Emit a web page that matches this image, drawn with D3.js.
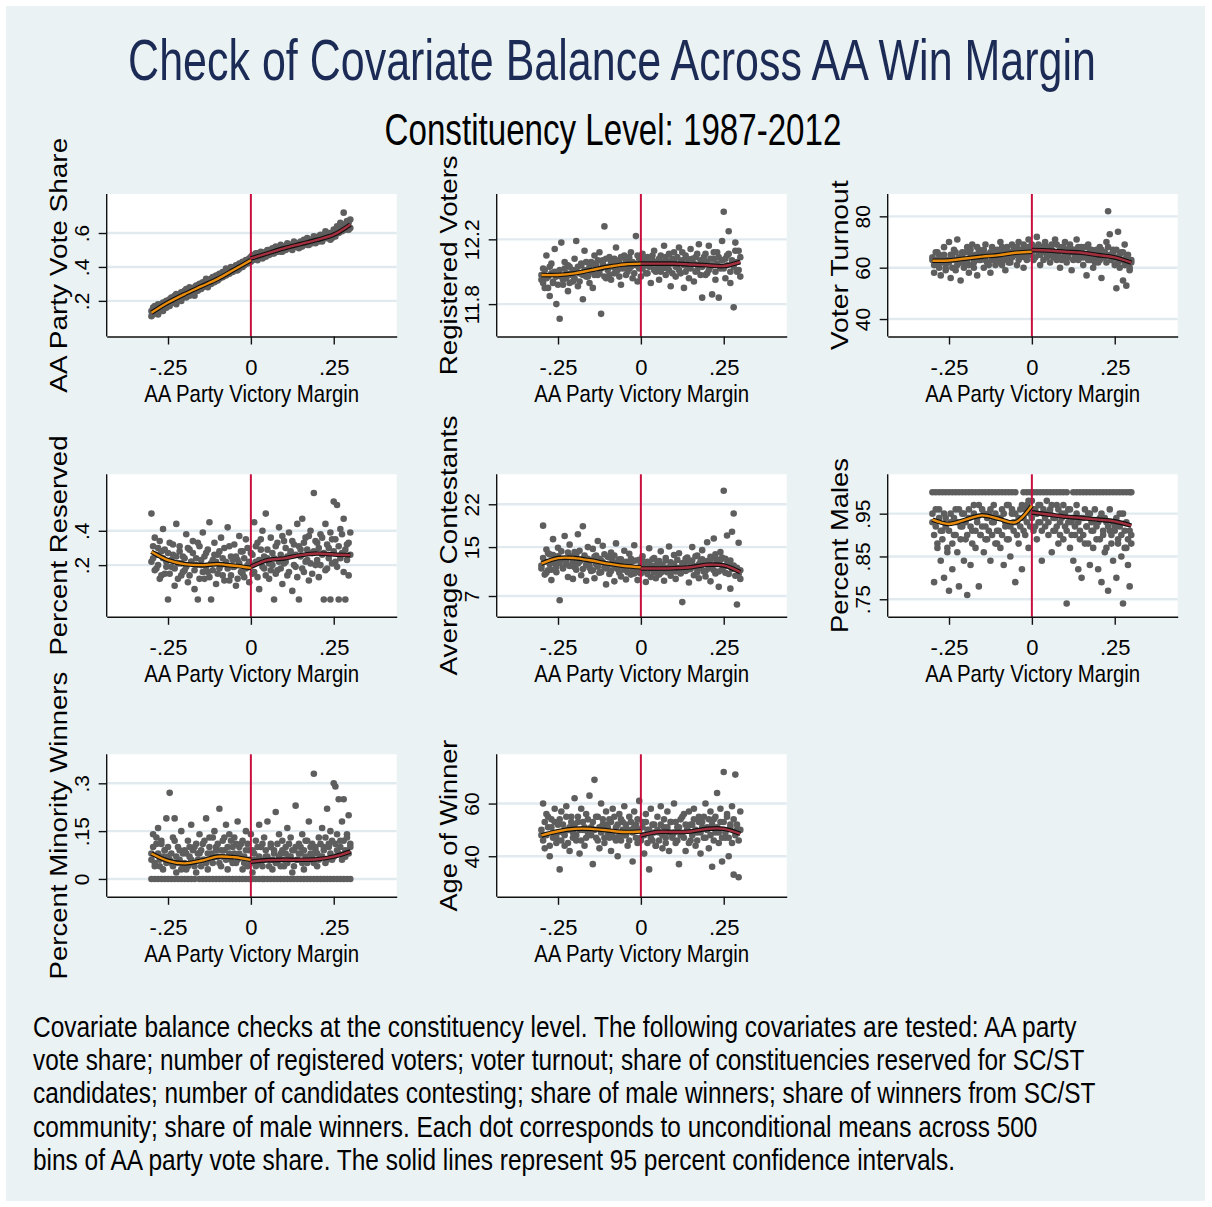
<!DOCTYPE html>
<html lang="en">
<head>
<meta charset="UTF-8">
<title>Check of Covariate Balance Across AA Win Margin</title>
<script src="https://d3js.org/d3.v7.min.js"></script>
<style>
  body { margin: 0; background: #fff; font-family: "Liberation Sans", Arial, sans-serif; }
  .axis path, .axis line { stroke: #111; stroke-width: 1.4; }
</style>
</head>
<body>
<svg id="chart" width="1212" height="1207"></svg>
<script>
// bins of AA party victory margin (x of every dot)
let marginBins = [
  -0.300,-0.295,-0.290,-0.285,-0.280,-0.275,-0.270,-0.265,-0.260,-0.255,
  -0.250,-0.245,-0.240,-0.235,-0.230,-0.225,-0.220,-0.215,-0.210,-0.205,
  -0.200,-0.195,-0.190,-0.185,-0.180,-0.175,-0.170,-0.165,-0.160,-0.155,
  -0.150,-0.145,-0.140,-0.135,-0.130,-0.125,-0.120,-0.115,-0.110,-0.105,
  -0.100,-0.095,-0.090,-0.085,-0.080,-0.075,-0.070,-0.065,-0.060,-0.055,
  -0.050,-0.045,-0.040,-0.035,-0.030,-0.025,-0.020,-0.015,-0.010,-0.005,
  0.000,0.005,0.010,0.015,0.020,0.025,0.030,0.035,0.040,0.045,
  0.050,0.055,0.060,0.065,0.070,0.075,0.080,0.085,0.090,0.095,
  0.100,0.105,0.110,0.115,0.120,0.125,0.130,0.135,0.140,0.145,
  0.150,0.155,0.160,0.165,0.170,0.175,0.180,0.185,0.190,0.195,
  0.200,0.205,0.210,0.215,0.220,0.225,0.230,0.235,0.240,0.245,
  0.250,0.255,0.260,0.265,0.270,0.275,0.280,0.285,0.290,0.295,0.300
]
let fitLeftX = [-0.30, -0.25, -0.20, -0.15, -0.10, -0.05, 0]
let fitRightX = [0, 0.05, 0.10, 0.15, 0.20, 0.25, 0.30]

let voteShareY = [
  0.11,0.16,0.13,0.17,0.12,0.15,0.18,0.14,0.19,0.16,
  0.20,0.17,0.22,0.19,0.23,0.18,0.21,0.24,0.20,0.23,
  0.26,0.22,0.25,0.28,0.24,0.27,0.23,0.29,0.26,0.30,
  0.27,0.31,0.29,0.33,0.28,0.32,0.30,0.34,0.31,0.35,
  0.32,0.36,0.34,0.37,0.35,0.39,0.36,0.38,0.40,0.37,
  0.39,0.41,0.38,0.42,0.40,0.43,0.41,0.44,0.42,0.45,
  0.43,0.47,0.45,0.48,0.44,0.46,0.49,0.45,0.48,0.46,
  0.50,0.47,0.49,0.51,0.48,0.52,0.49,0.50,0.53,0.49,
  0.52,0.50,0.54,0.51,0.53,0.50,0.55,0.52,0.54,0.51,
  0.55,0.53,0.56,0.54,0.57,0.53,0.56,0.55,0.58,0.54,
  0.57,0.55,0.59,0.56,0.58,0.61,0.57,0.60,0.56,0.59,
  0.62,0.58,0.64,0.60,0.66,0.61,0.72,0.63,0.67,0.62,0.68
]
let voteShareY2 = [
  0.14,0.12,0.17,0.15,0.18,0.16,0.14,0.19,0.17,0.20,
  0.18,0.21,0.19,0.22,0.20,0.24,0.21,0.23,0.25,0.22,
  0.24,0.27,0.25,0.23,0.27,0.25,0.28,0.26,0.29,0.27,
  0.30,0.28,0.31,0.29,0.32,0.30,0.33,0.31,0.34,0.32,
  0.35,0.33,0.36,0.34,0.37,0.35,0.38,0.36,0.39,0.38,
  0.40,0.38,0.41,0.39,0.42,0.40,0.43,0.42,0.44,0.43,
  0.46,0.44,0.47,0.46,0.48,0.47,0.46,0.48,0.47,0.49,
  0.48,0.50,0.49,0.48,0.50,0.49,0.51,0.50,0.49,0.52,
  0.50,0.52,0.51,0.53,0.52,0.51,0.53,0.54,0.52,0.53,
  0.54,0.52,0.55,0.54,0.53,0.56,0.55,0.54,0.56,0.55,
  0.56,0.58,0.57,0.55,0.58,0.57,0.59,0.58,0.60,0.57,
  0.59,0.61,0.60,0.62,0.61,0.63,0.65,0.62,0.64,0.66,0.63
]
let voteShareFitL = [0.13, 0.19, 0.24, 0.285, 0.33, 0.385, 0.44]
let voteShareFitR = [0.45, 0.48, 0.51, 0.535, 0.56, 0.59, 0.65]

let regVotersY = [
  11.95,12.02,11.90,12.10,11.97,11.85,12.05,11.93,12.14,11.80,
  12.00,11.71,12.18,11.92,12.06,11.96,11.88,12.03,11.99,11.94,
  12.08,12.19,11.91,11.99,12.04,11.83,12.13,11.97,12.01,11.93,
  12.06,11.90,12.10,12.02,11.98,12.12,11.74,12.07,12.28,11.96,
  12.03,12.09,11.95,12.05,11.99,12.15,12.01,12.07,11.92,12.04,
  12.10,11.98,12.06,12.02,12.12,11.96,12.05,12.22,11.94,12.08,
  11.97,12.11,12.04,11.99,12.09,12.03,11.93,12.07,12.13,12.00,
  12.05,11.95,12.10,12.02,12.16,11.98,12.06,12.01,11.91,12.08,
  12.12,11.97,12.04,12.15,11.99,12.07,11.90,12.10,12.03,11.96,
  12.14,12.06,11.94,12.09,12.01,12.17,11.98,11.84,12.05,12.11,
  11.99,12.16,12.03,11.86,12.08,11.95,12.12,11.84,12.02,12.19,
  12.37,11.96,12.10,12.25,11.93,12.05,11.78,12.18,12.00,12.13,11.97
]
let regVotersY2 = [
  11.98,11.93,12.01,11.96,11.90,12.03,11.99,11.94,12.00,11.97,
  11.92,12.01,11.97,11.95,12.02,11.99,12.04,11.93,11.98,12.01,
  11.96,12.00,12.03,11.94,12.05,11.98,12.01,12.06,11.97,12.03,
  12.00,12.05,11.98,12.04,12.07,11.99,12.02,12.05,11.97,12.08,
  12.01,11.98,12.06,12.03,12.08,12.00,12.05,11.97,12.09,12.02,
  12.04,12.07,12.00,12.09,12.03,12.06,11.99,12.04,12.10,12.02,
  12.06,12.02,12.08,12.05,11.99,12.07,12.04,12.10,12.01,12.06,
  12.03,12.08,12.00,12.06,12.04,12.09,12.02,12.11,12.05,11.99,
  12.07,12.03,12.09,12.01,12.06,12.12,12.04,12.00,12.08,12.05,
  12.02,12.08,12.05,12.00,12.11,12.04,12.07,12.03,12.09,11.98,
  12.06,12.01,12.08,12.04,12.12,12.00,12.05,12.09,12.03,12.07,
  12.02,12.08,12.04,12.11,12.00,12.07,12.03,12.13,12.06,12.01,12.09
]
let regVotersFitL = [11.98, 11.98, 11.99, 12.01, 12.03, 12.045, 12.05]
let regVotersFitR = [12.05, 12.05, 12.05, 12.045, 12.04, 12.035, 12.06]

let turnoutY = [
  63,58,66,61,65,57,64,68,60,62,
  70,56,64,67,59,71,62,55,66,63,
  61,68,58,65,69,60,64,57,67,63,
  66,60,69,62,65,58,68,64,61,67,
  63,70,61,66,59,68,64,62,69,65,
  67,61,70,64,66,60,68,63,71,65,
  69,63,67,72,65,61,68,66,70,64,
  67,62,69,65,71,63,66,60,68,64,
  70,62,66,69,59,67,64,71,63,66,
  68,61,65,57,69,63,67,60,66,64,
  62,68,56,66,64,70,82,73,63,67,
  61,52,74,60,66,55,69,53,65,59,62
]
let turnoutY2 = [
  64,61,63,66,60,64,62,65,59,63,
  62,65,60,63,66,61,64,62,65,60,
  66,63,61,67,64,62,65,68,63,66,
  64,67,63,65,61,66,63,67,65,62,
  66,64,68,63,67,65,62,66,64,68,
  65,68,63,67,65,69,64,66,68,67,
  66,68,64,67,69,65,67,63,68,66,
  68,65,67,64,66,69,65,67,63,68,
  65,67,64,68,66,63,67,65,68,64,
  66,64,68,65,63,67,64,66,62,67,
  65,63,67,64,66,62,68,65,63,66,
  64,67,62,65,63,66,61,64,62,60,63
]
let turnoutFitL = [62.7, 62.8, 63.6, 64.3, 64.9, 65.8, 66.2]
let turnoutFitR = [66.9, 66.7, 66.2, 65.8, 64.9, 64.0, 62.0]

let reservedY = [
  0.50,0.24,0.36,0.18,0.30,0.12,0.28,0.41,0.15,0.22,
  0.00,0.33,0.19,0.26,0.08,0.44,0.21,0.31,0.14,0.25,
  0.17,0.38,0.10,0.29,0.22,0.34,0.06,0.24,0.00,0.31,
  0.20,0.39,0.12,0.27,0.16,0.45,0.00,0.23,0.33,0.09,
  0.26,0.18,0.36,0.14,0.30,0.21,0.42,0.11,0.25,0.19,
  0.32,0.08,0.23,0.37,0.16,0.28,0.13,0.35,0.20,0.10,
  0.27,0.15,0.45,0.22,0.33,0.06,0.29,0.40,0.18,0.50,
  0.24,0.12,0.36,0.20,0.00,0.31,0.17,0.42,0.26,0.09,
  0.34,0.22,0.14,0.39,0.27,0.05,0.32,0.19,0.44,0.00,
  0.29,0.47,0.16,0.36,0.23,0.11,0.40,0.27,0.62,0.20,
  0.33,0.13,0.38,0.26,0.00,0.44,0.18,0.30,0.00,0.35,
  0.57,0.22,0.55,0.00,0.41,0.27,0.47,0.00,0.32,0.14,0.39
]
let reservedY2 = [
  0.22,0.31,0.17,0.26,0.20,0.34,0.14,0.24,0.29,0.19,
  0.27,0.15,0.23,0.32,0.18,0.25,0.12,0.28,0.21,0.16,
  0.24,0.19,0.30,0.14,0.22,0.27,0.17,0.20,0.33,0.12,
  0.23,0.16,0.25,0.19,0.29,0.13,0.21,0.17,0.26,0.22,
  0.15,0.28,0.20,0.24,0.11,0.22,0.18,0.31,0.14,0.23,
  0.19,0.25,0.12,0.21,0.28,0.15,0.24,0.18,0.30,0.22,
  0.20,0.26,0.16,0.31,0.13,0.23,0.35,0.19,0.25,0.14,
  0.29,0.21,0.17,0.27,0.24,0.15,0.33,0.22,0.18,0.37,
  0.21,0.30,0.25,0.16,0.28,0.34,0.20,0.26,0.13,0.31,
  0.25,0.18,0.33,0.22,0.29,0.37,0.21,0.15,0.28,0.34,
  0.23,0.30,0.20,0.36,0.27,0.17,0.32,0.24,0.39,0.21,
  0.28,0.35,0.19,0.31,0.24,0.38,0.16,0.29,0.23,0.33,0.26
]
let reservedFitL = [0.278, 0.229, 0.206, 0.200, 0.206, 0.196, 0.184]
let reservedFitR = [0.19, 0.229, 0.239, 0.258, 0.268, 0.262, 0.258]

let contestantsY = [
  12.0,18.5,10.5,14.6,11.2,13.8,9.6,16.3,12.4,10.9,
  14.9,6.3,13.0,11.5,16.8,12.2,10.1,15.4,13.5,9.8,
  14.2,11.3,17.1,12.6,10.4,18.4,13.1,9.5,15.0,12.0,
  11.1,14.7,9.9,13.6,16.0,10.8,12.8,15.2,11.7,8.9,
  13.4,10.6,14.1,12.1,9.4,15.6,11.4,13.0,10.2,12.5,
  14.4,9.7,11.9,13.9,10.5,12.7,15.3,11.2,9.6,12.9,
  10.7,13.5,11.4,9.3,12.6,14.8,10.1,11.9,13.2,9.9,
  12.3,10.5,14.3,11.0,9.5,12.8,11.6,15.1,10.3,12.0,
  13.7,9.8,11.5,14.0,10.8,6.0,12.4,11.1,13.3,9.2,
  12.1,15.0,10.4,11.8,13.6,9.9,12.7,14.5,11.0,10.2,
  15.8,12.3,9.4,13.1,16.4,10.7,12.9,8.5,14.2,11.3,
  24.2,10.8,16.9,12.5,8.2,17.5,20.5,11.6,5.6,15.7,9.8
]
let contestantsY2 = [
  11.5,13.2,12.6,10.8,14.0,12.2,11.3,13.7,12.9,11.8,
  13.5,12.4,14.3,11.6,13.0,12.7,14.1,11.9,13.3,12.5,
  11.7,13.8,12.3,14.4,12.9,11.4,13.6,12.1,13.1,11.6,
  12.8,11.2,13.4,12.2,11.8,13.1,10.9,12.5,13.8,11.5,
  12.0,13.3,11.1,12.7,13.6,11.6,12.4,10.8,13.0,11.9,
  11.3,12.6,10.9,12.2,13.1,11.5,10.7,12.8,11.4,10.9,
  12.1,11.0,12.6,11.8,10.6,12.3,11.4,13.0,10.9,12.0,
  11.2,12.7,10.8,12.1,11.5,13.2,10.9,11.7,12.5,11.1,
  12.2,11.0,12.9,11.6,10.7,12.4,11.9,13.1,11.3,12.6,
  11.4,12.8,11.9,13.5,10.9,12.2,11.6,13.0,12.4,11.1,
  12.7,11.5,13.4,12.0,11.2,13.8,12.5,11.0,12.9,13.3,
  11.8,13.1,12.2,10.6,12.8,11.4,12.0,10.3,11.6,10.5,11.2
]
let contestantsFitL = [12.3, 13.2, 13.2, 12.8, 12.3, 11.9, 11.7]
let contestantsFitR = [11.5, 11.5, 11.55, 11.7, 12.1, 12.0, 10.9]

let malesY = [
  0.95,0.79,0.92,0.88,0.96,0.84,0.91,0.80,0.94,0.87,
  0.77,0.93,0.82,0.90,0.96,0.86,0.78,0.92,0.95,0.84,
  0.89,0.76,0.94,0.83,0.91,0.97,0.87,0.93,0.78,0.90,
  0.96,0.86,0.92,0.89,0.95,0.84,0.93,0.97,0.88,0.91,
  0.94,0.87,0.96,0.83,0.92,0.89,0.97,0.85,0.95,0.91,
  0.79,0.93,0.88,0.96,0.82,0.94,0.90,0.97,0.87,0.95,
  0.98,0.91,0.96,0.89,0.93,0.97,0.84,0.95,0.92,0.98,
  0.90,0.96,0.86,0.94,0.91,0.97,0.88,0.93,0.95,0.89,
  0.92,0.74,0.96,0.87,0.93,0.84,0.90,0.95,0.82,0.91,
  0.80,0.94,0.88,0.92,0.95,0.83,0.91,0.87,0.93,0.89,
  0.82,0.94,0.79,0.90,0.86,0.93,0.77,0.91,0.88,0.84,
  0.92,0.80,0.89,0.95,0.85,0.74,0.91,0.87,0.83,0.78,0.90
]
let malesY2 = [
  0.93,0.90,0.96,0.87,0.94,0.91,0.89,0.95,0.92,0.86,
  0.91,0.95,0.88,0.94,0.90,0.93,0.96,0.89,0.92,0.95,
  0.93,0.90,0.96,0.92,0.88,0.95,0.91,0.94,0.97,0.90,
  0.92,0.95,0.89,0.94,0.91,0.96,0.90,0.93,0.95,0.88,
  0.91,0.94,0.90,0.95,0.93,0.97,0.89,0.92,0.96,0.93,
  0.95,0.90,0.94,0.92,0.97,0.91,0.96,0.93,0.98,0.92,
  0.94,0.96,0.92,0.95,0.97,0.93,0.91,0.96,0.94,0.95,
  0.93,0.95,0.97,0.91,0.94,0.92,0.96,0.90,0.94,0.97,
  0.95,0.91,0.93,0.96,0.90,0.94,0.92,0.97,0.93,0.89,
  0.94,0.90,0.96,0.92,0.88,0.95,0.93,0.91,0.96,0.92,
  0.93,0.89,0.95,0.91,0.94,0.87,0.92,0.96,0.90,0.93,
  0.91,0.94,0.88,0.92,0.90,0.95,0.87,0.93,0.89,0.91,0.88
]
// bins where every winner was male (share = 1)
let malesAllMaleX = [
  -0.30,-0.29,-0.28,-0.27,-0.26,-0.25,-0.24,-0.23,-0.22,-0.21,-0.20,-0.19,-0.18,
  -0.17,-0.16,-0.15,-0.14,-0.13,-0.12,-0.11,-0.10,-0.09,-0.08,-0.07,-0.06,-0.05,
  -0.025,-0.015,-0.005,0.005,0.015,0.025,0.035,0.045,0.055,0.065,0.075,0.085,0.095,0.105,
  0.125,0.135,0.145,0.155,0.165,0.175,0.185,0.195,0.205,0.215,0.225,0.235,0.245,
  0.255,0.265,0.275,0.285,0.295,0.300
]
let malesFitL = [0.936, 0.926, 0.936, 0.946, 0.938, 0.930, 0.969]
let malesFitR = [0.953, 0.948, 0.943, 0.940, 0.936, 0.932, 0.922]

let minorityY = [
  0.08,0.14,0.04,0.11,0.16,0.06,0.12,0.03,0.09,0.19,
  0.07,0.27,0.05,0.13,0.19,0.02,0.10,0.06,0.15,0.04,
  0.09,0.03,0.12,0.07,0.17,0.05,0.10,0.02,0.08,0.14,
  0.04,0.11,0.06,0.19,0.03,0.13,0.08,0.05,0.15,0.10,
  0.07,0.22,0.04,0.12,0.09,0.17,0.03,0.14,0.06,0.10,
  0.13,0.05,0.18,0.08,0.11,0.03,0.07,0.15,0.04,0.09,
  0.14,0.02,0.08,0.12,0.05,0.17,0.10,0.04,0.13,0.07,
  0.18,0.06,0.11,0.03,0.09,0.21,0.05,0.14,0.08,0.12,
  0.04,0.10,0.16,0.07,0.13,0.02,0.09,0.23,0.06,0.11,
  0.08,0.14,0.03,0.12,0.05,0.18,0.10,0.07,0.33,0.09,
  0.04,0.13,0.07,0.16,0.10,0.05,0.22,0.11,0.15,0.06,
  0.30,0.29,0.09,0.25,0.12,0.18,0.25,0.07,0.14,0.20,0.11
]
let minorityY2 = [
  0.06,0.10,0.05,0.13,0.08,0.04,0.11,0.07,0.09,0.05,
  0.10,0.06,0.08,0.04,0.12,0.07,0.05,0.09,0.03,0.08,
  0.05,0.08,0.04,0.10,0.06,0.09,0.04,0.11,0.06,0.08,
  0.09,0.06,0.12,0.05,0.08,0.10,0.06,0.13,0.07,0.09,
  0.11,0.05,0.09,0.07,0.13,0.06,0.10,0.08,0.12,0.05,
  0.08,0.11,0.06,0.10,0.07,0.12,0.05,0.09,0.11,0.06,
  0.05,0.09,0.06,0.04,0.10,0.07,0.05,0.11,0.06,0.09,
  0.07,0.04,0.10,0.06,0.08,0.05,0.11,0.07,0.04,0.09,
  0.06,0.08,0.05,0.11,0.07,0.09,0.04,0.10,0.06,0.08,
  0.10,0.05,0.09,0.07,0.12,0.06,0.08,0.11,0.05,0.10,
  0.08,0.06,0.11,0.07,0.09,0.13,0.06,0.10,0.08,0.12,
  0.07,0.11,0.14,0.08,0.10,0.06,0.12,0.09,0.13,0.08,0.10
]
// bins with no minority winner (share = 0)
let minorityNoneX = [
  -0.30,-0.29,-0.28,-0.27,-0.26,-0.25,-0.24,-0.23,-0.22,-0.21,-0.20,-0.19,-0.18,-0.17,
  -0.155,-0.145,-0.135,-0.125,-0.115,-0.105,-0.095,-0.085,-0.075,-0.065,-0.055,-0.045,
  -0.035,-0.025,-0.015,-0.005,0.005,0.015,0.025,0.035,
  0.04,0.05,0.06,0.07,0.08,0.09,0.10,0.11,
  0.12,0.13,0.14,0.15,0.16,0.17,0.18,0.19,0.20,0.21,0.22,0.23,0.24,0.25,0.26,0.27,0.28,0.29,0.30
]
let minorityFitL = [0.080, 0.057, 0.049, 0.057, 0.070, 0.068, 0.060]
let minorityFitR = [0.054, 0.059, 0.060, 0.060, 0.062, 0.070, 0.086]

let ageY = [
  48,60,43,56,51,40,54,47,58,45,
  52,35,57,49,44,59,50,42,55,47,
  62,46,53,41,58,50,44,56,49,63,
  51,37,69,47,55,43,60,52,45,57,
  49,54,42,58,47,51,40,56,46,53,
  59,48,44,55,50,38,57,52,45,61,
  47,53,41,56,50,35,58,46,52,44,
  55,49,59,43,51,47,57,42,53,48,
  60,45,51,37,54,48,56,42,50,57,
  46,52,58,44,49,55,41,53,47,60,
  51,43,57,36,54,49,64,45,58,38,
  72,47,55,40,52,59,33,71,50,32,57
]
let ageY2 = [
  50,46,53,48,55,44,51,49,53,47,
  49,54,46,52,48,55,45,51,53,49,
  52,48,55,50,46,53,51,47,54,50,
  48,53,50,55,46,51,49,54,47,52,
  51,47,53,49,55,46,52,48,54,50,
  48,52,50,46,53,49,51,47,54,50,
  46,51,48,53,45,50,47,52,49,44,
  50,46,52,48,54,45,51,49,53,47,
  49,53,46,51,48,55,47,52,50,45,
  52,48,54,50,46,53,49,51,55,47,
  50,54,48,52,46,55,51,49,53,47,
  53,49,56,47,51,45,54,48,52,46,50
]
let ageFitL = [47.9, 49.5, 50.4, 50.4, 49.8, 49.2, 49.4]
let ageFitR = [47.9, 49.2, 49.2, 49.4, 50.4, 50.4, 48.5]

let xTicks = [-0.25, 0, 0.25]
let xTickLabels = ["-.25", "0", ".25"]

let captionLines = [
  "Covariate balance checks at the constituency level. The following covariates are tested: AA party",
  "vote share; number of registered voters; voter turnout; share of constituencies reserved for SC/ST",
  "candidates; number of candidates contesting; share of male winners; share of winners from SC/ST",
  "community; share of male winners. Each dot corresponds to unconditional means across 500",
  "bins of AA party vote share. The solid lines represent 95 percent confidence intervals."
]

// ---- panel setup ----
let panels = [
  { title: "AA Party Vote Share", y: [voteShareY, voteShareY2], fitL: voteShareFitL, fitR: voteShareFitR,
    domain: [-0.01, 0.83], ticks: [0.2, 0.4, 0.6], labels: [".2", ".4", ".6"] },
  { title: "Registered Voters", y: [regVotersY, regVotersY2], fitL: regVotersFitL, fitR: regVotersFitR,
    domain: [11.60, 12.48], ticks: [11.8, 12.2], labels: ["11.8", "12.2"] },
  { title: "Voter Turnout", y: [turnoutY, turnoutY2], fitL: turnoutFitL, fitR: turnoutFitR,
    domain: [33.2, 88.7], ticks: [40, 60, 80], labels: ["40", "60", "80"] },
  { title: "Percent Reserved", y: [reservedY, reservedY2], fitL: reservedFitL, fitR: reservedFitR,
    domain: [-0.101, 0.729], ticks: [0.2, 0.4], labels: [".2", ".4"] },
  { title: "Average Contestants", y: [contestantsY, contestantsY2], fitL: contestantsFitL, fitR: contestantsFitR,
    domain: [3.6, 26.9], ticks: [7, 15, 22], labels: ["7", "15", "22"] },
  { title: "Percent Males", y: [malesY, malesY2], fitL: malesFitL, fitR: malesFitR,
    extraX: malesAllMaleX, extraY: 1,
    domain: [0.709, 1.042], ticks: [0.75, 0.85, 0.95], labels: [".75", ".85", ".95"] },
  { title: "Percent Minority Winners", y: [minorityY, minorityY2], fitL: minorityFitL, fitR: minorityFitR,
    extraX: minorityNoneX, extraY: 0,
    domain: [-0.056, 0.391], ticks: [0, 0.15, 0.3], labels: ["0", ".15", ".3"] },
  { title: "Age of Winner", y: [ageY, ageY2], fitL: ageFitL, fitR: ageFitR,
    domain: [24.6, 78.7], ticks: [40, 60], labels: ["40", "60"] }
]
let titleLengths = [255, 220, 170, 220, 260, 175, 308, 172]
let captionLengths = [1044, 1052, 1063, 1005, 922]

let svg = d3.select("#chart")
let colLeft = [106.7, 496.7, 887.7]
let rowTop = [194, 474.3, 754.3]
let plotW = 290, plotH = 142.5
let font = "'Liberation Sans', Arial, sans-serif"

// squeeze/stretch a text along its baseline so it covers `len` pixels
function fitText(sel, x, y, len, rotate) {
  let natural = sel.node().getComputedTextLength()
  let s = len / natural
  sel.attr("x", 0).attr("y", 0)
    .attr("transform", `translate(${x},${y})` + (rotate ? " rotate(-90)" : "") + ` scale(${s},1)`)
  return sel
}

svg.append("rect").attr("x", 6).attr("y", 6).attr("width", 1199).attr("height", 1195)
  .attr("fill", "#eaf2f3")

fitText(svg.append("text").attr("text-anchor", "middle").attr("font-family", font)
  .attr("font-size", 58).attr("fill", "#1c2b55")
  .text("Check of Covariate Balance Across AA Win Margin"), 612, 80, 968)

fitText(svg.append("text").attr("text-anchor", "middle").attr("font-family", font)
  .attr("font-size", 44).attr("fill", "#000")
  .text("Constituency Level: 1987-2012"), 613, 145, 457)

panels.forEach(function (p, i) {
  let left = colLeft[i % 3]
  let top = rowTop[Math.floor(i / 3)]
  let g = svg.append("g")

  let x = d3.scaleLinear().domain([-0.435, 0.44]).range([left, left + plotW])
  let y = d3.scaleLinear().domain(p.domain).range([top + plotH, top])

  g.append("rect").attr("x", left).attr("y", top).attr("width", plotW).attr("height", plotH)
    .attr("fill", "#fff")

  g.selectAll(".grid").data(p.ticks).enter().append("line")
    .attr("x1", left).attr("x2", left + plotW)
    .attr("y1", d => y(d)).attr("y2", d => y(d))
    .attr("stroke", "#e1ebef").attr("stroke-width", 2.4)

  let pts = []
  p.y.forEach(series => marginBins.forEach((m, k) => pts.push([m, series[k]])))
  if (p.extraX) p.extraX.forEach(m => pts.push([m, p.extraY]))

  g.selectAll(".dot").data(pts).enter().append("circle")
    .attr("cx", d => x(d[0])).attr("cy", d => y(d[1])).attr("r", 3.3)
    .attr("fill", "#5e5e5e")

  g.append("line").attr("x1", x(0)).attr("x2", x(0)).attr("y1", top).attr("y2", top + plotH)
    .attr("stroke", "#c8103e").attr("stroke-width", 2)

  let line = d3.line().x(d => x(d[0])).y(d => y(d[1])).curve(d3.curveCatmullRom.alpha(0.5))
  let sides = [
    { d: fitLeftX.map((m, k) => [m, p.fitL[k]]), color: "#e88a0c" },
    { d: fitRightX.map((m, k) => [m, p.fitR[k]]), color: "#a3303f" }
  ]
  sides.forEach(function (s) {
    g.append("path").attr("d", line(s.d)).attr("fill", "none")
      .attr("stroke", "#111").attr("stroke-width", 4.6)
    g.append("path").attr("d", line(s.d)).attr("fill", "none")
      .attr("stroke", s.color).attr("stroke-width", 2.4)
  })

  let yAxis = g.append("g").attr("class", "axis").attr("transform", `translate(${left},0)`)
    .call(d3.axisLeft(y).tickValues(p.ticks).tickSize(8).tickSizeOuter(0)
      .tickFormat((d, k) => p.labels[k]))
  yAxis.select(".domain").attr("d", `M0,${top}V${top + plotH}`)
  yAxis.selectAll("text")
    .attr("transform", "rotate(-90)").attr("x", 0).attr("y", -18).attr("dy", 0)
    .attr("text-anchor", "middle").attr("font-family", font).attr("font-size", 21)
    .attr("fill", "#000")

  let xAxis = g.append("g").attr("class", "axis").attr("transform", `translate(0,${top + plotH})`)
    .call(d3.axisBottom(x).tickValues(xTicks).tickSize(8).tickSizeOuter(0)
      .tickFormat((d, k) => xTickLabels[k]))
  xAxis.selectAll("text")
    .attr("y", 38).attr("dy", 0).attr("font-family", font).attr("font-size", 22)
    .attr("fill", "#000")

  fitText(g.append("text").attr("text-anchor", "middle").attr("font-family", font)
    .attr("font-size", 24).text("AA Party Victory Margin"),
    left + plotW / 2, top + plotH + 65, 215)

  fitText(g.append("text").attr("text-anchor", "middle").attr("font-family", font)
    .attr("font-size", 24).text(p.title),
    left - 40, top + plotH / 2, titleLengths[i], true)
})

captionLines.forEach(function (t, k) {
  fitText(svg.append("text").attr("font-family", font).attr("font-size", 30).text(t),
    33, 1036.5 + k * 33.4, captionLengths[k])
})
</script>
</body>
</html>
